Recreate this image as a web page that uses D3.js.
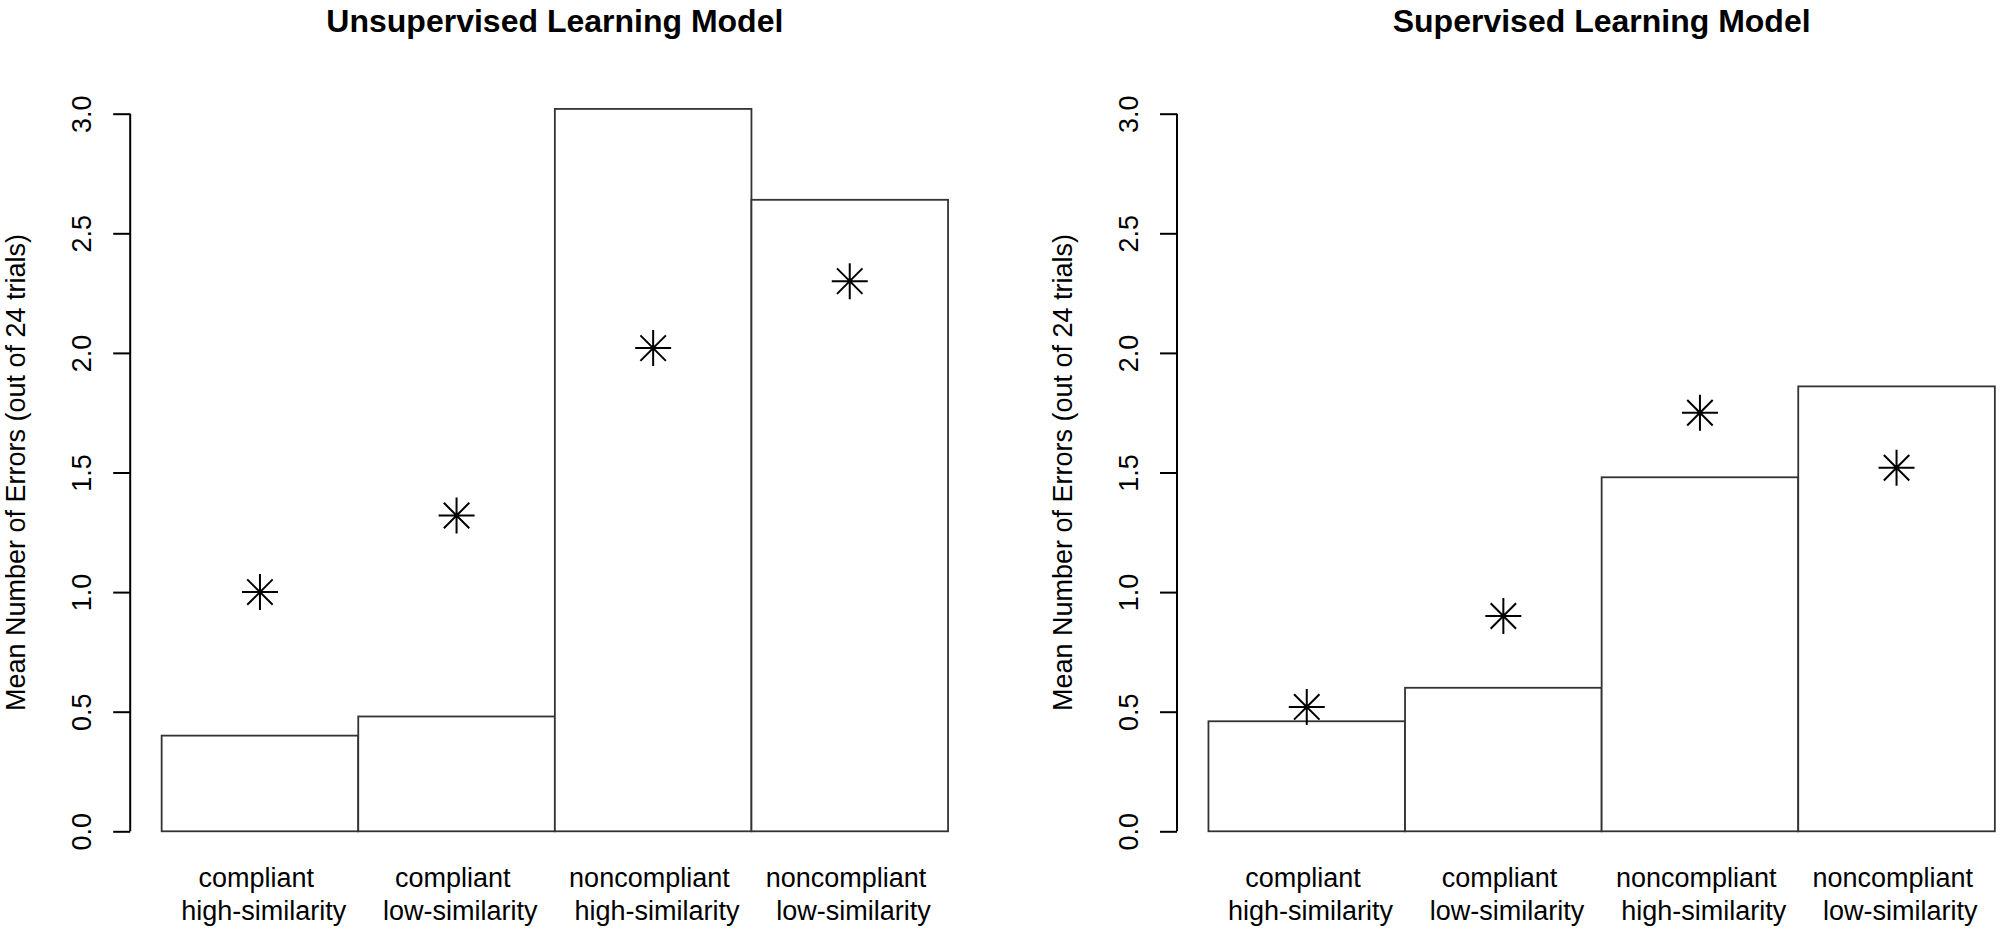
<!DOCTYPE html>
<html>
<head>
<meta charset="utf-8">
<script src="https://cdn.jsdelivr.net/npm/d3@7/dist/d3.min.js"></script>
<style>
  html, body { margin: 0; padding: 0; background: #fff; }
  svg { display: block; font-family: "Liberation Sans", Arial, Helvetica, sans-serif; }
  text { white-space: pre; }
</style>
</head>
<body>
<svg id="chart" width="2003" height="932"></svg>
<script>
// ---- data ----
const categoriesLine1 = ["compliant ", "compliant ", "noncompliant ", "noncompliant "];
const categoriesLine2 = [" high-similarity", " low-similarity", " high-similarity", " low-similarity"];
const panelTitles = ["Unsupervised Learning Model", "Supervised Learning Model"];
const unsupervisedBars = [0.40, 0.48, 3.02, 2.64];
const unsupervisedStars = [1.00, 1.32, 2.02, 2.30];
const supervisedBars = [0.46, 0.60, 1.48, 1.86];
const supervisedStars = [0.52, 0.90, 1.75, 1.52];
const yTicks = [0, 0.5, 1.0, 1.5, 2.0, 2.5, 3.0];
const yTitle = "Mean Number of Errors (out of 24 trials)";

const panels = [
  { title: panelTitles[0], bars: unsupervisedBars, stars: unsupervisedStars, left: 130.2, right: 979.5 },
  { title: panelTitles[1], bars: supervisedBars, stars: supervisedStars, left: 1177, right: 2026.3 }
];

const FS = 27;
const svg = d3.select("#chart");
const yTop = 113.7, yBottom = 831.3;
const y = d3.scaleLinear().domain([0, 3]).range([yBottom, yTop]);

panels.forEach(p => {
  const g = svg.append("g");
  const w = p.right - p.left;
  const pad = w * 0.04 / 1.08;
  const idx = d3.range(p.bars.length);
  const x = d3.scaleBand().domain(idx).range([p.left + pad, p.right - pad]).paddingInner(0).paddingOuter(0);

  // bars
  g.selectAll("rect.bar").data(idx).enter().append("rect")
    .attr("class", "bar")
    .attr("x", i => x(i))
    .attr("y", i => y(p.bars[i]))
    .attr("width", x.bandwidth())
    .attr("height", i => y(0) - y(p.bars[i]))
    .attr("fill", "#fff")
    .attr("stroke", "#333")
    .attr("stroke-width", 1.8);

  // stars (R pch = 8)
  const r = 18, d = r / Math.SQRT2;
  const star = g.selectAll("g.star").data(idx).enter().append("g")
    .attr("class", "star")
    .attr("transform", i => `translate(${x(i) + x.bandwidth() / 2},${y(p.stars[i])})`);
  star.append("path")
    .attr("d", `M${-r},0L${r},0M0,${-r}L0,${r}M${-d},${-d}L${d},${d}M${-d},${d}L${d},${-d}`)
    .attr("stroke", "#000")
    .attr("stroke-width", 2)
    .attr("fill", "none");

  // y axis
  const axis = d3.axisLeft(y).tickValues(yTicks).tickSize(17).tickSizeOuter(0).tickFormat(d3.format(".1f"));
  const ag = g.append("g").attr("transform", `translate(${p.left},0)`).call(axis);
  ag.select(".domain").attr("stroke", "#000").attr("stroke-width", 2)
    .attr("d", `M0,${y(0)}V${y(3)}`);
  ag.selectAll(".tick line").attr("stroke", "#000").attr("stroke-width", 2);
  ag.selectAll(".tick text")
    .attr("x", null).attr("dy", null)
    .attr("transform", "translate(-39,0) rotate(-90)")
    .attr("text-anchor", "middle")
    .attr("font-size", FS)
    .attr("font-family", "Liberation Sans, Arial, sans-serif")
    .attr("fill", "#000");

  // y title
  g.append("text")
    .attr("transform", `translate(${p.left - 105},${(yTop + yBottom) / 2}) rotate(-90)`)
    .attr("text-anchor", "middle")
    .attr("font-size", FS)
    .attr("fill", "#000")
    .text(yTitle);

  // category labels
  const lab = g.selectAll("g.lab").data(idx).enter().append("g").attr("class", "lab")
    .attr("transform", i => `translate(${x(i) + x.bandwidth() / 2},0)`);
  lab.append("text").attr("y", 887).attr("text-anchor", "middle").attr("font-size", FS)
    .text(i => categoriesLine1[i]);
  lab.append("text").attr("y", 920).attr("text-anchor", "middle").attr("font-size", FS)
    .text(i => categoriesLine2[i]);

  // title
  g.append("text")
    .attr("x", (p.left + p.right) / 2)
    .attr("y", 32)
    .attr("text-anchor", "middle")
    .attr("font-size", 32)
    .attr("font-weight", "bold")
    .text(p.title);
});
</script>
</body>
</html>
